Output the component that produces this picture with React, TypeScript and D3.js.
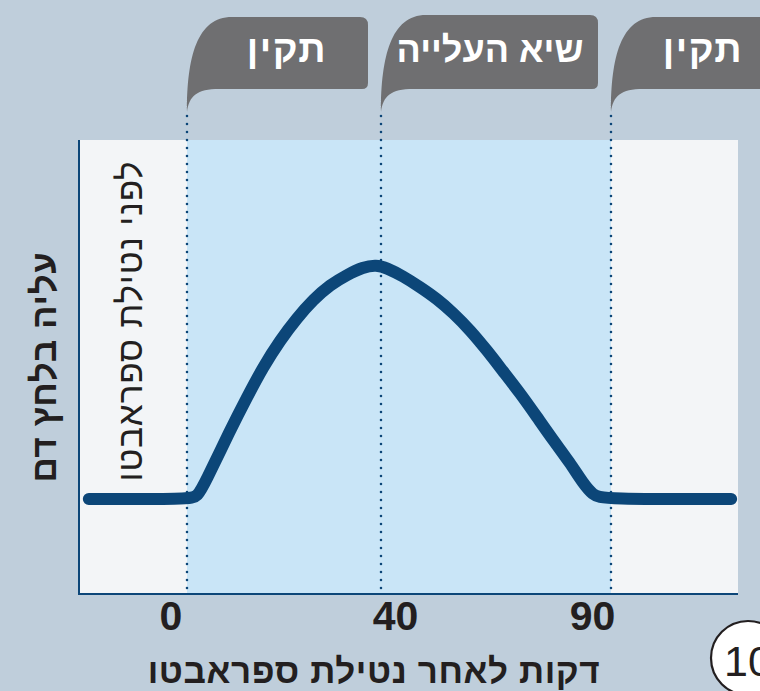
import React, { useRef, useEffect } from "react";
import * as d3 from "d3";

// schematic blood-pressure curve (minutes after dose, arbitrary pressure units)
const minutes = [-20, 0.6, 2.1, 3.7, 8.9, 12.4, 15.7, 19.2, 22.7, 26.0, 29.5, 33.0, 36.3, 39.0, 41.3, 44.8, 48.5, 52.2, 55.7, 59.4, 63.0, 66.5, 70.2, 73.9, 77.4, 81.1, 83.9, 86.1, 88.0, 114.6];
const pressure = [20.9, 20.9, 21.4, 24.4, 36.1, 43.4, 50.0, 55.9, 60.8, 64.8, 68.1, 70.3, 72.0, 72.5, 71.8, 70.0, 67.6, 65.0, 61.9, 58.1, 53.7, 49.1, 44.3, 39.0, 33.9, 28.9, 24.4, 21.8, 20.9, 20.9];

const phaseStarts = [0, 40, 90];
const phaseLabels = ["תקין", "שיא העלייה", "תקין"];
const tickValues = [0, 40, 90];
const tickLabels = ["0", "40", "90"];
const xTitle = "דקות לאחר נטילת ספראבטו";
const yTitle = "עליה בלחץ דם";
const preLabel = "לפני נטילת ספראבטו";
const figureNumber = "10";

const FONT = "'Liberation Sans', Arial, sans-serif";

const App: React.FC = () => {
  const svgRef = useRef<SVGSVGElement>(null);

  useEffect(() => {
    if (!svgRef.current) return;
    const svg = d3.select(svgRef.current);
    svg.selectAll("*").remove();

    const width = 760;
    const height = 691;
    const plot = { left: 79, right: 738, top: 140, bottom: 594 };
    const navy = "#0C4678";
    const ink = "#231F20";

    // schematic (piecewise) time axis
    const x = d3
      .scaleLinear()
      .domain([-22, 0, 40, 90, 116])
      .range([plot.left, 187, 381, 611, plot.right]);
    const y = d3.scaleLinear().domain([0, 100]).range([plot.bottom, plot.top]);

    svg.attr("width", width).attr("height", height);

    svg.append("rect").attr("width", width).attr("height", height).attr("fill", "#BFCEDB");

    // plot background
    svg
      .append("rect")
      .attr("x", plot.left)
      .attr("y", plot.top)
      .attr("width", plot.right - plot.left)
      .attr("height", plot.bottom - plot.top)
      .attr("fill", "#F3F5F7");
    svg
      .append("rect")
      .attr("x", x(phaseStarts[0]))
      .attr("y", plot.top)
      .attr("width", x(phaseStarts[2]) - x(phaseStarts[0]))
      .attr("height", plot.bottom - plot.top)
      .attr("fill", "#C9E5F7");

    // axis lines
    svg
      .append("line")
      .attr("x1", plot.left)
      .attr("x2", plot.left)
      .attr("y1", plot.top)
      .attr("y2", plot.bottom)
      .attr("stroke", navy)
      .attr("stroke-width", 2);
    svg
      .append("line")
      .attr("x1", plot.left - 1)
      .attr("x2", plot.right)
      .attr("y1", plot.bottom)
      .attr("y2", plot.bottom)
      .attr("stroke", navy)
      .attr("stroke-width", 2);

    // phase tabs
    const tabTop = 17;
    const tabBottom = 89;
    const tailY = 112;
    const labelDx = [100, 109, 92];
    phaseStarts.forEach((p, i) => {
      const tx = x(p);
      const R = i < phaseStarts.length - 1 ? x(phaseStarts[i + 1]) - 13 : width + 40;
      const top = i === 1 ? tabTop - 2 : tabTop;
      const d = [
        `M${tx},${tailY}`,
        `C${tx},${tailY - 55} ${tx + 10},${top} ${tx + 45},${top}`,
        `L${R - 8},${top}`,
        `Q${R},${top} ${R},${top + 8}`,
        `L${R},${tabBottom - 6}`,
        `Q${R},${tabBottom} ${R - 6},${tabBottom}`,
        `L${tx + 32},${tabBottom}`,
        `C${tx + 10},${tabBottom} ${tx + 2},${tabBottom + 7} ${tx},${tailY}`,
        "Z",
      ].join(" ");
      svg.append("path").attr("d", d).attr("fill", "#6F6F71");
      svg
        .append("text")
        .attr("x", tx + labelDx[i])
        .attr("y", 62)
        .attr("text-anchor", "middle")
        .attr("font-family", FONT)
        .attr("font-weight", "bold")
        .attr("font-size", i === 1 ? 36 : 38)
        .attr("letter-spacing", i === 1 ? 0 : 1.5)
        .attr("fill", "#fff")
        .text(phaseLabels[i]);

      // dotted divider
      svg
        .append("line")
        .attr("x1", tx)
        .attr("x2", tx)
        .attr("y1", tailY + 4)
        .attr("y2", plot.bottom)
        .attr("stroke", navy)
        .attr("stroke-width", 2.6)
        .attr("stroke-linecap", "round")
        .attr("stroke-dasharray", "0 8");
    });

    // curve
    const pts = minutes.map((m, i) => [m, pressure[i]] as [number, number]);
    const line = d3
      .line<[number, number]>()
      .x((d) => x(d[0]))
      .y((d) => y(d[1]))
      .curve(d3.curveBasis);
    svg
      .append("path")
      .datum(pts)
      .attr("d", line)
      .attr("fill", "none")
      .attr("stroke", navy)
      .attr("stroke-width", 12)
      .attr("stroke-linecap", "round")
      .attr("stroke-linejoin", "round");

    // tick labels
    const tickDx = [-16, 14.5, -18.5];
    tickValues.forEach((t, i) => {
      svg
        .append("text")
        .attr("x", x(t) + tickDx[i])
        .attr("y", 630)
        .attr("text-anchor", "middle")
        .attr("font-family", FONT)
        .attr("font-weight", "bold")
        .attr("font-size", 41)
        .attr("fill", ink)
        .text(tickLabels[i]);
    });

    // x title
    svg
      .append("text")
      .attr("x", 374)
      .attr("y", 683)
      .attr("text-anchor", "middle")
      .attr("font-family", FONT)
      .attr("font-weight", "bold")
      .attr("font-size", 35)
      .attr("letter-spacing", 0.6)
      .attr("fill", ink)
      .text(xTitle);

    // y title
    svg
      .append("text")
      .attr("transform", "translate(56,367) rotate(-90)")
      .attr("text-anchor", "middle")
      .attr("font-family", FONT)
      .attr("font-weight", "bold")
      .attr("font-size", 35)
      .attr("letter-spacing", 0.6)
      .attr("fill", ink)
      .text(yTitle);

    // pre-dose label
    svg
      .append("text")
      .attr("transform", "translate(142,321) rotate(-90)")
      .attr("text-anchor", "middle")
      .attr("font-family", FONT)
      .attr("font-size", 35)
      .attr("letter-spacing", 0.8)
      .attr("fill", ink)
      .text(preLabel);

    // figure number badge (cropped at the page corner)
    svg
      .append("circle")
      .attr("cx", 748)
      .attr("cy", 658)
      .attr("r", 37)
      .attr("fill", "#fff")
      .attr("stroke", ink)
      .attr("stroke-width", 2.2);
    svg
      .append("text")
      .attr("x", 748)
      .attr("y", 676)
      .attr("text-anchor", "middle")
      .attr("font-family", FONT)
      .attr("font-size", 43)
      .attr("fill", ink)
      .text(figureNumber);
  }, []);

  return (
    <div style={{ position: "fixed", left: 0, top: 0 }}>
      <svg ref={svgRef} style={{ display: "block" }}></svg>
    </div>
  );
};

export default App;
